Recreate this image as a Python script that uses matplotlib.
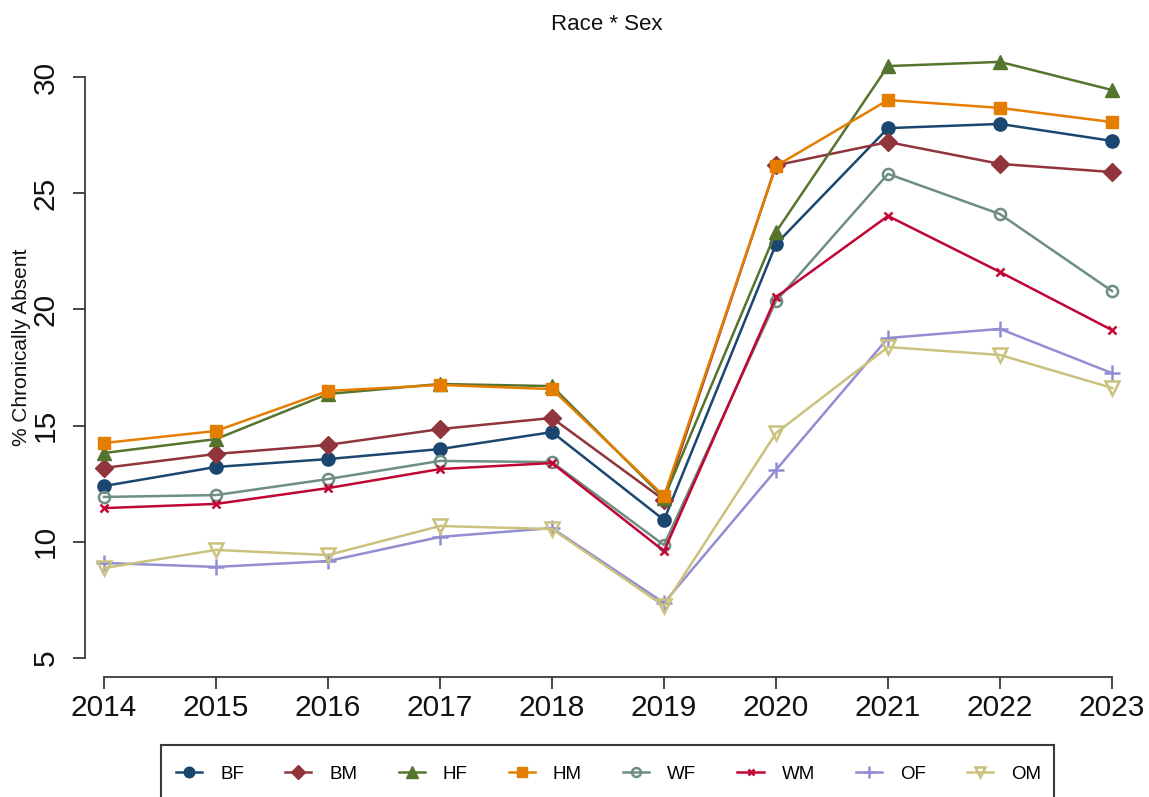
import matplotlib
matplotlib.use("Agg")
import matplotlib.pyplot as plt
from matplotlib.lines import Line2D
from matplotlib.patches import Rectangle

plt.rcParams["font.family"] = ["Liberation Sans", "DejaVu Sans"]

# Chronic absence rates by race * sex group
years = [2014, 2015, 2016, 2017, 2018, 2019, 2020, 2021, 2022, 2023]
bf = [12.40, 13.22, 13.56, 13.99, 14.72, 10.94, 22.81, 27.80, 27.98, 27.25]
bm = [13.18, 13.78, 14.17, 14.85, 15.33, 11.80, 26.20, 27.20, 26.26, 25.91]
hf = [13.82, 14.42, 16.36, 16.79, 16.70, 11.88, 23.33, 30.47, 30.65, 29.44]
hm = [14.25, 14.77, 16.49, 16.75, 16.57, 11.97, 26.17, 29.01, 28.67, 28.06]
wf = [11.93, 12.01, 12.70, 13.48, 13.43, 9.86, 20.36, 25.83, 24.10, 20.79]
wm = [11.45, 11.63, 12.31, 13.13, 13.39, 9.60, 20.53, 24.02, 21.61, 19.11]
of = [9.09, 8.92, 9.17, 10.21, 10.59, 7.37, 13.09, 18.77, 19.16, 17.26]
om = [8.87, 9.65, 9.43, 10.68, 10.55, 7.24, 14.68, 18.38, 18.04, 16.62]

labels = ["BF", "BM", "HF", "HM", "WF", "WM", "OF", "OM"]
values = [bf, bm, hf, hm, wf, wm, of, om]
colors = ["#1a476f", "#90353b", "#55752f", "#e37e00",
          "#6e8e84", "#c10534", "#938dd2", "#cac27e"]
# (marker, size, filled, edge width)
styles = [("o", 9.5, True, 1.0), ("D", 9.0, True, 1.0), ("^", 10.0, True, 1.0),
          ("s", 9.0, True, 1.0), ("o", 8.0, False, 1.8), ("x", 6.0, True, 1.8),
          ("+", 11.0, True, 1.8), ("v", 9.5, False, 1.8)]

W, H = 1149, 797
fig = plt.figure(figsize=(W / 100, H / 100), dpi=100)

# axes box in pixels
left_px, right_px, top_px, bottom_px = 85, 1135, 45, 677
ax = fig.add_axes([left_px / W, 1 - bottom_px / H,
                   (right_px - left_px) / W, (bottom_px - top_px) / H])

for lab, vals, col, (mk, ms, filled, mew) in zip(labels, values, colors, styles):
    ax.plot(years, vals, color=col, lw=1.8, marker=mk, markersize=ms,
            markerfacecolor=col if filled else "none", markeredgecolor=col,
            markeredgewidth=mew, label=lab)

px_per_year = (1112 - 104) / 9
px_per_unit = (658 - 77) / 25
ax.set_xlim(2014 - (104 - left_px) / px_per_year, 2023 + (right_px - 1112) / px_per_year)
ax.set_ylim(5 - (bottom_px - 658) / px_per_unit, 30 + (77 - top_px) / px_per_unit)

for s in ["top", "right"]:
    ax.spines[s].set_visible(False)
ax.spines["left"].set_bounds(5, 30)
ax.spines["bottom"].set_bounds(2014, 2023)
for s in ["left", "bottom"]:
    ax.spines[s].set_color("#3a3a3a")
    ax.spines[s].set_linewidth(1.3)

ax.set_xticks(years)
ax.set_xticklabels([str(y) for y in years])
ax.set_yticks([5, 10, 15, 20, 25, 30])
ax.tick_params(axis="both", length=8.6, width=1.3, color="#3a3a3a",
               labelsize=21.5, labelcolor="#111111")
ax.tick_params(axis="x", pad=4)
ax.tick_params(axis="y", pad=9.5)
for t in ax.get_yticklabels():
    t.set_rotation(90)
    t.set_va("center")

fig.text(607 / W, 1 - 25 / H, "Race * Sex", ha="center", va="center",
         fontsize=16, color="#111111")
fig.text(22 / W, 1 - 347 / H, "% Chronically Absent", ha="center", va="center",
         rotation=90, fontsize=15, color="#111111")

# legend frame (runs off the bottom edge)
fig.patches.append(Rectangle((161 / W, 1 - 812 / H), (1054 - 161) / W, (812 - 745) / H,
                             transform=fig.transFigure, facecolor="white",
                             edgecolor="#3a3a3a", lw=1.5, clip_on=False))

handles = []
for lab, col, (mk, ms, filled, mew) in zip(labels, colors, styles):
    handles.append(Line2D([], [], color=col, lw=1.8, marker=mk, markersize=ms * 0.8,
                          markerfacecolor=col if filled else "none",
                          markeredgecolor=col, markeredgewidth=mew))
fig.legend(handles, labels, ncol=8, loc="center left",
           bbox_to_anchor=(176 / W, 1 - 774 / H), frameon=False,
           fontsize=13.5, handlelength=1.4, handletextpad=0.95,
           columnspacing=2.2, borderaxespad=0, borderpad=0)

fig.savefig("out.png", dpi=100)
